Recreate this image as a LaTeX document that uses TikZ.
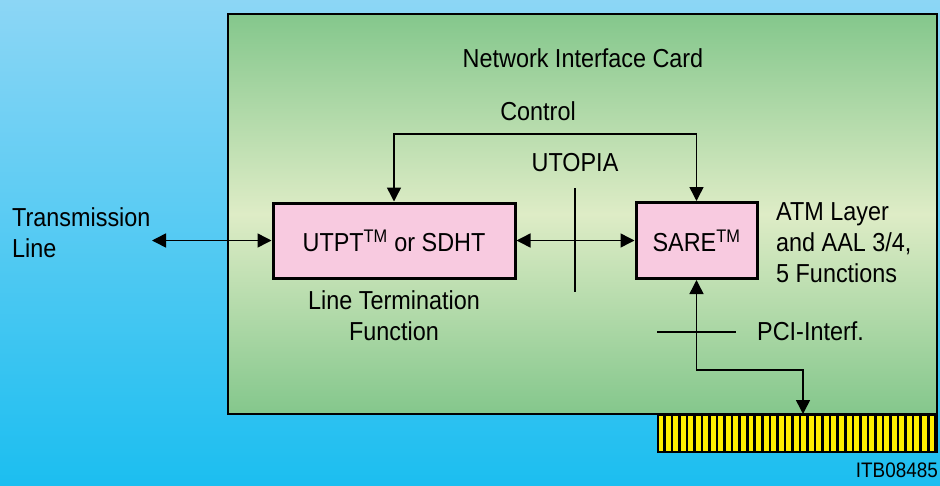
\documentclass[tikz,border=0pt]{standalone}
\usepackage{fontspec}
\setmainfont[FakeStretch=0.9]{Liberation Sans}
\usetikzlibrary{arrows.meta}
\definecolor{bgtop}{RGB}{140,214,245}
\definecolor{bgbot}{RGB}{28,190,240}
\definecolor{cardg}{RGB}{132,199,140}
\definecolor{cardl}{RGB}{222,236,198}
\definecolor{boxpink}{RGB}{248,202,224}
\definecolor{pinyellow}{RGB}{255,238,0}
\tikzset{
  lbl/.style={font=\fontsize{26}{31}\selectfont, inner sep=0pt, align=center},
  blk/.style={draw=black, line width=3pt, fill=boxpink},
  con/.style={line width=1.5pt},
  tip/.style={con, -{Triangle[length=14pt,width=14pt]}},
  both/.style={con, {Triangle[length=14pt,width=14pt]}-{Triangle[length=14pt,width=14pt]}},
}
\begin{document}
\begin{tikzpicture}[x=1pt,y=-1pt]
\useasboundingbox (0,0) rectangle (940,485);
\shade[top color=bgtop, bottom color=bgbot] (0,0) rectangle (940,485);
% card
\shade[top color=cardg, bottom color=cardg, middle color=cardl] (228,14) rectangle (937,414);
\draw[line width=2.5pt] (228,14) rectangle (937,414);
% edge connector
\fill[pinyellow] (658,415) rectangle (937,452);
\foreach \i in {0,...,36} {
  \fill[black] ({658+5+\i*7.54},415) rectangle ({658+7.6+\i*7.54},452);
}
\draw[line width=2pt] (658,415) rectangle (937,452);
% blocks
\node[blk, minimum width=242pt, minimum height=75pt, lbl] (utpt) at (394,240.5) {UTPT\textsuperscript{TM} or SDHT};
\node[blk, minimum width=121pt, minimum height=76pt, lbl] (sare) at (696.5,240.5) {SARE\textsuperscript{TM}};
% labels
\node[lbl] (nic) at (583,58) {Network Interface Card};
\node[lbl] (ctl) at (538,111) {Control};
\node[lbl] (uto) at (575,163) {UTOPIA};
\node[lbl, align=left, anchor=west] (tx) at (12,233) {Transmission\\Line};
\node[lbl] (ltf) at (394,316) {Line Termination\\Function};
\node[lbl, align=left, anchor=west] (atm) at (776,243) {ATM Layer\\and AAL 3/4,\\5 Functions};
\node[lbl, anchor=west] (pci) at (757,331) {PCI-Interf.};
\node[font=\fontsize{21}{25}\selectfont, inner sep=0pt, anchor=east] (itb) at (938,470) {ITB08485};
% coordinates
\coordinate (tl) at (152,240.5);
\coordinate (pin) at (803,414);
\coordinate (cy) at (0,134);
\coordinate (by) at (0,370);
\coordinate (ut1) at (575,188);
\coordinate (ut2) at (575,292);
\coordinate (pc1) at (657,332);
\coordinate (pc2) at (736,332);
% connectors
\draw[both] (utpt.north) -- (utpt.north |- cy) -| (sare.north);
\draw[both] (tl) -- (utpt.west);
\draw[both] (utpt.east) -- (sare.west);
\draw[both] (sare.south) -- (sare.south |- by) -| (pin);
\draw[con] (ut1) -- (ut2);
\draw[con] (pc1) -- (pc2);
\end{tikzpicture}
\end{document}
